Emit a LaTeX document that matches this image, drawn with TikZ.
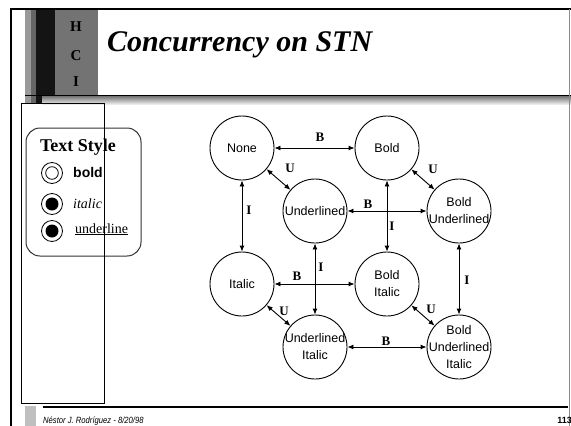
\documentclass[tikz,border=0pt]{standalone}
\usepackage{fontspec}
\setmainfont{Liberation Serif}
\setsansfont{Liberation Sans}
\newfontfamily\narrowsans[FakeStretch=0.85]{Liberation Sans}
\usetikzlibrary{arrows.meta}

\begin{document}
\begin{tikzpicture}[x=1pt,y=-1pt,
  state/.style={circle,draw,line width=0.9pt,minimum size=64pt,inner sep=0pt},
  stlabel/.style={font=\sffamily\fontsize{12.5}{17}\selectfont,align=center,inner sep=0pt},
  trans/.style={{Latex[length=6pt,width=5pt]}-{Latex[length=6pt,width=5pt]},line width=0.9pt},
  evt/.style={font=\bfseries\fontsize{13}{13}\selectfont,inner sep=0pt},
  radio/.style={circle,draw,line width=0.8pt,minimum size=21pt,inner sep=0pt},
  optlabel/.style={anchor=base west,inner sep=0pt},
]
\useasboundingbox (0,0) rectangle (571,426);
\fill[white] (0,0) rectangle (571,426);

% ---- header band ----
\fill[black!40] (25,10) rectangle (31,103);
\fill[black!60] (31,10) rectangle (36,103);
\fill[black!92] (36,10) rectangle (55,95);
\fill[black!92] (36,95) rectangle (42,103);
\fill[black!55] (55,10) rectangle (98,95);
\shade[top color=black!55,bottom color=black!8] (42,96) rectangle (571,104);
\draw[line width=1pt] (25,95) -- (571,95);

\node[font=\bfseries\fontsize{15}{15}\selectfont,inner sep=0pt] (hH) at (76,27) {H};
\node[font=\bfseries\fontsize{15}{15}\selectfont,inner sep=0pt] (hC) at (76,56) {C};
\node[font=\bfseries\fontsize{15}{15}\selectfont,inner sep=0pt] (hI) at (76,82) {I};

\node[anchor=base west,font=\bfseries\itshape\fontsize{30}{30}\selectfont,inner sep=0pt]
  (title) at (107,51) {Concurrency on STN};

% ---- outer frame ----
\draw[line width=2pt] (11,426) -- (11,9) -- (571,9);
\draw[black!45,line width=0.8pt] (569.5,9) -- (569.5,426);

% ---- footer ----
\fill[black!25] (25,406) rectangle (36,426);
\draw[line width=2pt] (43,406.5) -- (568,406.5);
\node[anchor=base west,font=\narrowsans\itshape\fontsize{9}{9}\selectfont,inner sep=0pt]
  (author) at (43,423) {Néstor J. Rodríguez - 8/20/98};
\node[anchor=base east,font=\sffamily\bfseries\fontsize{9}{9}\selectfont,inner sep=0pt]
  (page) at (572,423) {113};

% ---- text style panel ----
\draw[line width=1pt,black!80,rounded corners=14pt] (26,128) rectangle (141,256);
\node[anchor=base,font=\bfseries\fontsize{18}{18}\selectfont,inner sep=0pt] (panel) at (78,151) {Text Style};

\node[radio] (rbold) at (52,173) {};
\draw[line width=0.8pt] (rbold.center) circle[radius=6.3pt];
\node[radio] (rital) at (52,204) {};
\fill (rital.center) circle[radius=6.5pt];
\node[radio] (rund) at (52,231) {};
\fill (rund.center) circle[radius=6.5pt];

\node[optlabel,font=\sffamily\bfseries\fontsize{14}{14}\selectfont] (lbold) at (73,177) {bold};
\node[optlabel,font=\itshape\fontsize{14}{14}\selectfont] (lital) at (73,208) {italic};
\node[optlabel,font=\fontsize{14}{14}\selectfont] (lund) at (75,233) {\underline{underline}};

\draw[line width=0.8pt] (21,103) rectangle (104,403);

% ---- state transition network ----
\node[state,label={[stlabel]center:None}] (none) at (242,148) {};
\node[state,label={[stlabel]center:Bold}] (bold) at (387,148) {};
\node[state,label={[stlabel]center:Underlined}] (und) at (315,211) {};
\node[state,label={[stlabel]center:Bold\\Underlined}] (bu) at (459,211) {};
\node[state,label={[stlabel]center:Italic}] (ital) at (242,284) {};
\node[state,label={[stlabel]center:Bold\\Italic}] (bi) at (387,284) {};
\node[state,label={[stlabel]center:Underlined\\Italic}] (ui) at (315,347) {};
\node[state,label={[stlabel]center:Bold\\Underlined\\Italic}] (bui) at (459,347) {};

\draw[trans] (none) -- (bold);
\draw[trans] (none) -- (und);
\draw[trans] (none) -- (ital);
\draw[trans] (bold) -- (bu);
\draw[trans] (bold) -- (bi);
\draw[trans] (und) -- (bu);
\draw[trans] (und) -- (ui);
\draw[trans] (bu) -- (bui);
\draw[trans] (ital) -- (bi);
\draw[trans] (ital) -- (ui);
\draw[trans] (bi) -- (bui);
\draw[trans] (ui) -- (bui);

\node[evt] (e1) at (320,137) {B};
\node[evt] (e2) at (290,168) {U};
\node[evt] (e3) at (249,210) {I};
\node[evt] (e4) at (433,169) {U};
\node[evt] (e5) at (392,226) {I};
\node[evt] (e6) at (368,204) {B};
\node[evt] (e7) at (321,267) {I};
\node[evt] (e8) at (467,280) {I};
\node[evt] (e9) at (297,276) {B};
\node[evt] (e10) at (284,311) {U};
\node[evt] (e11) at (431,309) {U};
\node[evt] (e12) at (386,341) {B};
\end{tikzpicture}
\end{document}
